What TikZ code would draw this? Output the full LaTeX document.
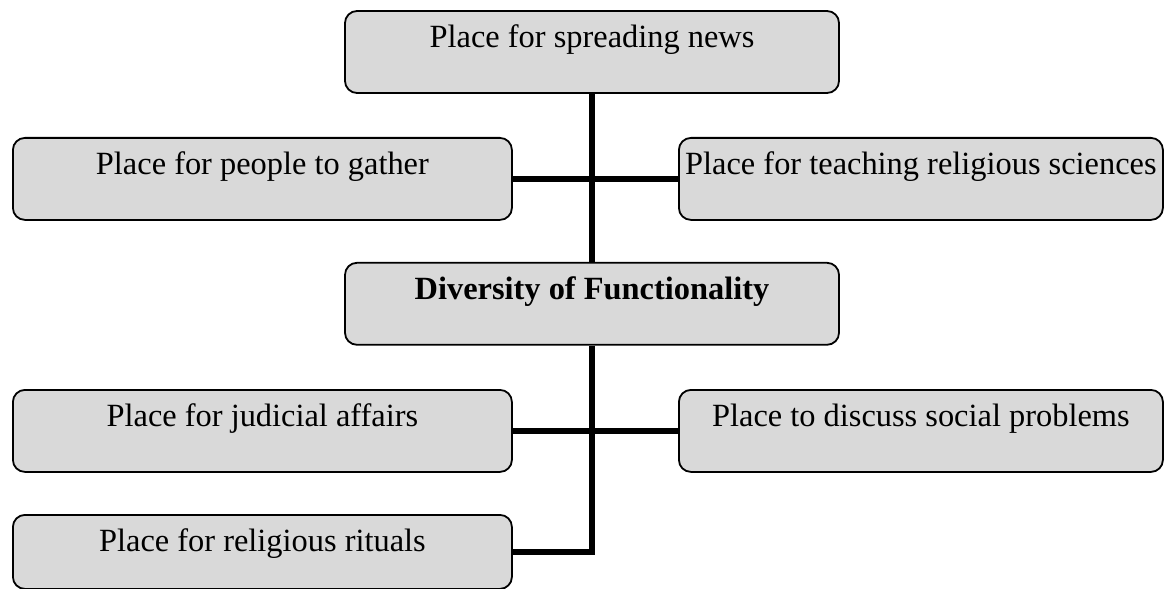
\documentclass[tikz,border=0pt]{standalone}
\usepackage{fontspec}
\setmainfont{Liberation Serif}
\usepackage{tikz}
\usetikzlibrary{positioning}
\definecolor{boxgray}{RGB}{217,217,217}
\tikzset{
  funcbox/.style={
    rectangle, rounded corners=6pt, draw=black, line width=0.9pt, fill=boxgray,
    inner xsep=1.5pt, inner ysep=0pt, text height=18.5pt, text depth=22.5pt,
    text centered, font=\fontsize{16.2}{19}\selectfont
  },
  mainbox/.style={funcbox, minimum width=247pt},
  leftbox/.style={funcbox, minimum width=249.5pt, anchor=north west},
  rightbox/.style={funcbox, minimum width=242pt, anchor=north west},
  link/.style={line width=3pt, line join=miter, color=black},
}
\begin{document}
\begin{tikzpicture}[node distance=84pt]
  \useasboundingbox (0,0) rectangle (582.5pt,-294pt);
  \node (news)     [mainbox] at (296pt,-26pt)                {Place for spreading news};
  \node (div)      [mainbox, below=of news, font=\fontsize{16.2}{19}\selectfont\bfseries] {Diversity of Functionality};
  \node (gather)   [leftbox]  at (6pt,-68.5pt)              {Place for people to gather};
  \node (teach)    [rightbox] at (339pt,-68.5pt)            {Place for teaching religious sciences};
  \node (judicial) [leftbox]  at (6pt,-194.5pt)             {Place for judicial affairs};
  \node (social)   [rightbox] at (339pt,-194.5pt)           {Place to discuss social problems};
  \node (rituals)  [leftbox, text depth=18.5pt] at (6pt,-257pt) {Place for religious rituals};

  \draw [link] (news)     -- (div);
  \draw [link] (gather)   -- (teach);
  \draw [link] (judicial) -- (social);
  \draw [link] (div)      |- (rituals);
\end{tikzpicture}
\end{document}
